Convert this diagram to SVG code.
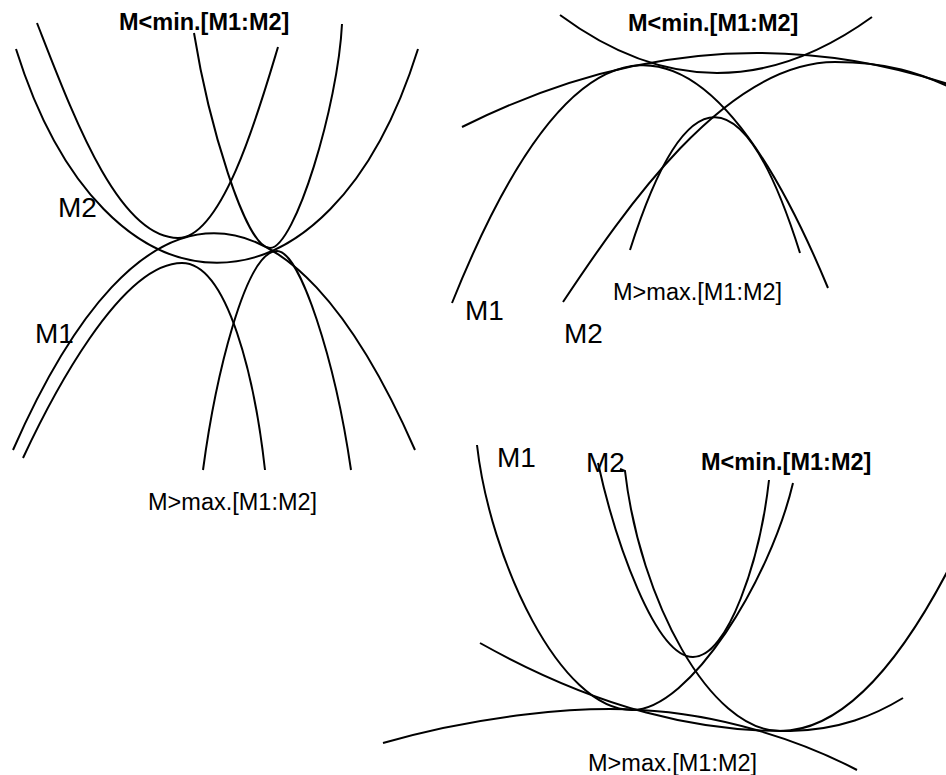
<svg xmlns="http://www.w3.org/2000/svg" width="946" height="775" viewBox="0 0 946 775">
<style>
.c{fill:none;stroke:#000;stroke-width:2}
.lb{font-family:"Liberation Sans",Arial,sans-serif;font-size:28px;fill:#000}
.cap{font-family:"Liberation Sans",Arial,sans-serif;font-size:23.5px;fill:#000}
.b{font-weight:bold}
</style>
<rect width="946" height="775" fill="#fff"/>
<g id="panel1">
<path class="c" d="M16,49 C105,334 329,334 418,49"/>
<path class="c" d="M37,23 C73,115 118,238 178,238 C223,238 260,107 278,47"/>
<path class="c" d="M194,33 C208,120 245,248 270,248 C295,248 338,105 342,24"/>
<path class="c" d="M13,450 C140,161 288,161 415,450"/>
<path class="c" d="M23,458 C50,400 120,263 182,263 C228,263 255,380 265,470"/>
<path class="c" d="M203,470 C215,380 245,251 277,251 C300,251 335,360 351,470"/>
<text class="cap b" x="119" y="29.5">M&lt;min.[M1:M2]</text>
<text class="cap" x="148" y="510">M&gt;max.[M1:M2]</text>
<text class="lb" x="58" y="217">M2</text>
<text class="lb" x="35" y="343">M1</text>
</g>
<g id="panel2">
<path class="c" d="M560,15 C664,92 768,92 872,17"/>
<path class="c" d="M462,127 Q757,-21 1052,127"/>
<path class="c" d="M452,303 Q640,-165 828,288"/>
<path class="c" d="M563,302 C623,212 725,62 835,62 C885,62 920,72 960,92"/>
<path class="c" d="M630,250 Q715,-17 800,253"/>
<text class="cap b" x="628" y="30.5">M&lt;min.[M1:M2]</text>
<text class="cap" x="613" y="300">M&gt;max.[M1:M2]</text>
<text class="lb" x="465" y="320">M1</text>
<text class="lb" x="564" y="343">M2</text>
</g>
<g id="panel3">
<path class="c" d="M477,445 C490,560 560,710 632,710 C690,710 770,580 793,483"/>
<path class="c" d="M598,463 C615,540 655,657 693,657 C728,657 760,560 769,480"/>
<path class="c" d="M620,469 L625,471 C640,600 710,731 780,731 C842,731 904,665 966,534"/>
<path class="c" d="M383,743 C480,715 580,706 640,710 C720,714 800,740 857,770"/>
<path class="c" d="M480,643 C600,710 700,732 790,731 C840,730 875,715 903,698"/>
<text class="lb" x="497" y="467">M1</text>
<text class="lb" x="586" y="472">M2</text>
<text class="cap b" x="701" y="470">M&lt;min.[M1:M2]</text>
<text class="cap" x="588" y="771">M&gt;max.[M1:M2]</text>
</g>
</svg>
